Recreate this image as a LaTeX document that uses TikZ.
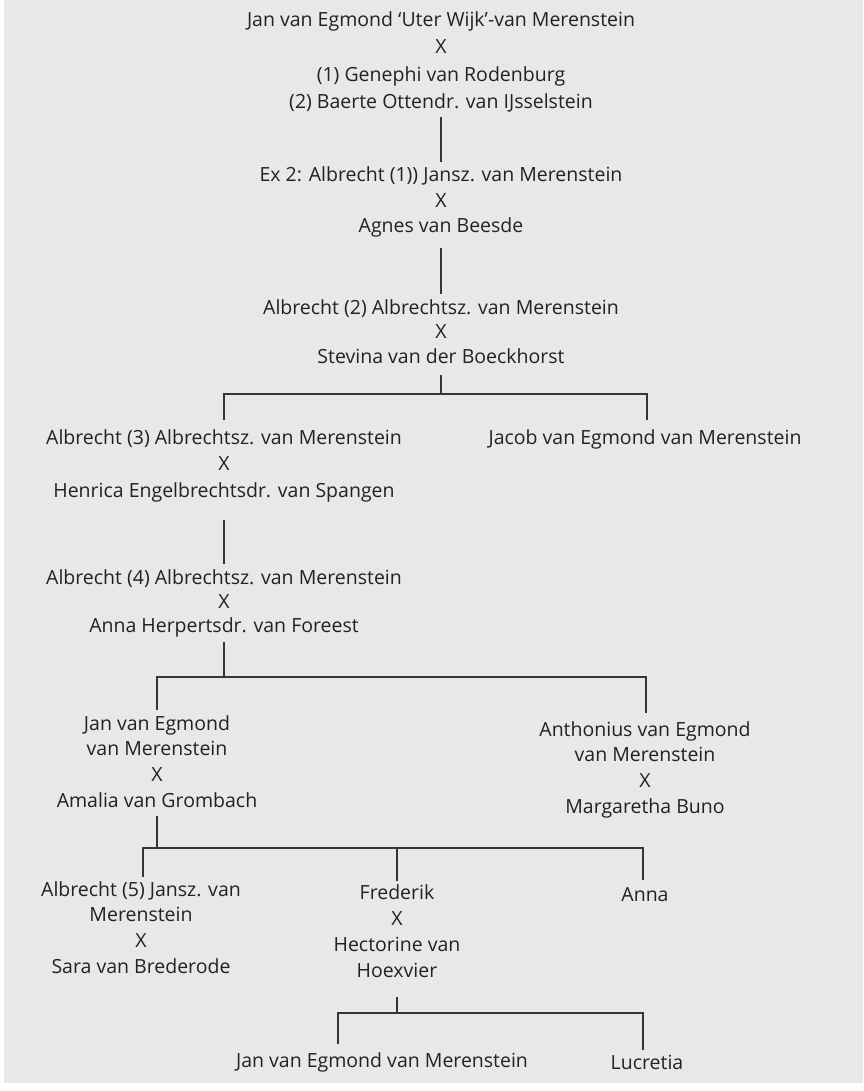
\documentclass[tikz,border=0pt]{standalone}
\usepackage{fontspec}
\setmainfont{Open Sans}
\usetikzlibrary{calc}
\definecolor{bg}{HTML}{E8E8E8}
\definecolor{txt}{HTML}{222222}
\definecolor{lnc}{HTML}{353535}
\tikzset{
  lbl/.style={anchor=base, inner sep=0pt, text=txt, font=\fontsize{19.5}{22}\selectfont},
  ln/.style={draw=lnc, line width=1.2pt}
}
\begin{document}
\begin{tikzpicture}[x=1pt, y=-1pt]
\useasboundingbox (0,0) rectangle (863,1091);
\fill[white] (0,0) rectangle (863,1091);
\fill[bg] (4,0) rectangle (863,1083);
% top group
\node[lbl] (t1) at (441,27) {Jan van Egmond ‘Uter Wijk’-van Merenstein};
\node[lbl] (t2) at (441,54) {X};
\node[lbl] (t3) at (441,82) {(1) Genephi van Rodenburg};
\node[lbl] (t4) at (441,109) {(2) Baerte Ottendr. van IJsselstein};
% ex 2
\node[lbl] (e1) at (441,182) {Ex 2: Albrecht (1)) Jansz. van Merenstein};
\node[lbl] (e2) at (441,208) {X};
\node[lbl] (e3) at (441,233) {Agnes van Beesde};
% albrecht 2
\node[lbl] (a1) at (441,314) {Albrecht (2) Albrechtsz. van Merenstein};
\node[lbl] (a2) at (441,338) {X};
\node[lbl] (a3) at (441,363) {Stevina van der Boeckhorst};
% albrecht 3 / jacob
\node[lbl] (b1) at (224,444) {Albrecht (3) Albrechtsz. van Merenstein};
\node[lbl] (b2) at (224,470) {X};
\node[lbl] (b3) at (224,497) {Henrica Engelbrechtsdr. van Spangen};
\node[lbl] (j1) at (645,444) {Jacob van Egmond van Merenstein};
% albrecht 4
\node[lbl] (c1) at (224,584) {Albrecht (4) Albrechtsz. van Merenstein};
\node[lbl] (c2) at (224,608) {X};
\node[lbl] (c3) at (224,632) {Anna Herpertsdr. van Foreest};
% jan / anthonius
\node[lbl] (d1) at (157,730) {Jan van Egmond};
\node[lbl] (d2) at (157,755) {van Merenstein};
\node[lbl] (d3) at (157,781) {X};
\node[lbl] (d4) at (157,807) {Amalia van Grombach};
\node[lbl] (r1) at (645,736) {Anthonius van Egmond};
\node[lbl] (r2) at (645,761) {van Merenstein};
\node[lbl] (r3) at (645,787) {X};
\node[lbl] (r4) at (645,813) {Margaretha Buno};
% children of jan
\node[lbl] (f1) at (141,896) {Albrecht (5) Jansz. van};
\node[lbl] (f2) at (141,921) {Merenstein};
\node[lbl] (f3) at (141,947) {X};
\node[lbl] (f4) at (141,973) {Sara van Brederode};
\node[lbl] (g1) at (397,899) {Frederik};
\node[lbl] (g2) at (397,925) {X};
\node[lbl] (g3) at (397,951) {Hectorine van};
\node[lbl] (g4) at (397,977) {Hoexvier};
\node[lbl] (h1) at (645,901) {Anna};
% children of frederik
\node[lbl] (k1) at (382,1067) {Jan van Egmond van Merenstein};
\node[lbl] (k2) at (647,1069) {Lucretia};
% bus coordinates
\coordinate (bus1) at (441,394);
\coordinate (bus1r) at (647,394);
\coordinate (bus2) at (224,677);
\coordinate (bus2l) at (157,677);
\coordinate (bus2r) at (646,677);
\coordinate (bus3) at (157,848);
\coordinate (bus3l) at (143,848);
\coordinate (bus3r) at (643,848);
\coordinate (bus4) at (397,1013);
\coordinate (bus4l) at (338,1013);
\coordinate (bus4r) at (643,1013);
% connectors
\draw[ln] ($(t4.base)+(0,8)$) -- ($(e1.base)+(0,-20)$);
\draw[ln] ($(e3.base)+(0,15)$) -- ($(a1.base)+(0,-20)$);
\draw[ln] ($(a3.base)+(0,12)$) -- (bus1);
\draw[ln] ($(b1.base)+(0,-24)$) -- (b1.base |- bus1) -- (bus1r) -- ($(bus1r)+(0,26)$);
\draw[ln] ($(b3.base)+(0,23)$) -- ($(c1.base)+(0,-20)$);
\draw[ln] ($(c3.base)+(0,10)$) -- (bus2);
\draw[ln] ($(bus2l)+(0,33)$) -- (bus2l) -- (bus2r) -- ($(bus2r)+(0,36)$);
\draw[ln] ($(d4.base)+(0,9)$) -- (bus3);
\draw[ln] ($(bus3l)+(0,29)$) -- (bus3l) -- (bus3r) -- ($(bus3r)+(0,32)$);
\draw[ln] (g1.base |- bus3) -- ($(g1.base)+(0,-18)$);
\draw[ln] ($(g4.base)+(0,20)$) -- (bus4);
\draw[ln] ($(bus4l)+(0,31)$) -- (bus4l) -- (bus4r) -- ($(bus4r)+(0,37)$);
\end{tikzpicture}
\end{document}
